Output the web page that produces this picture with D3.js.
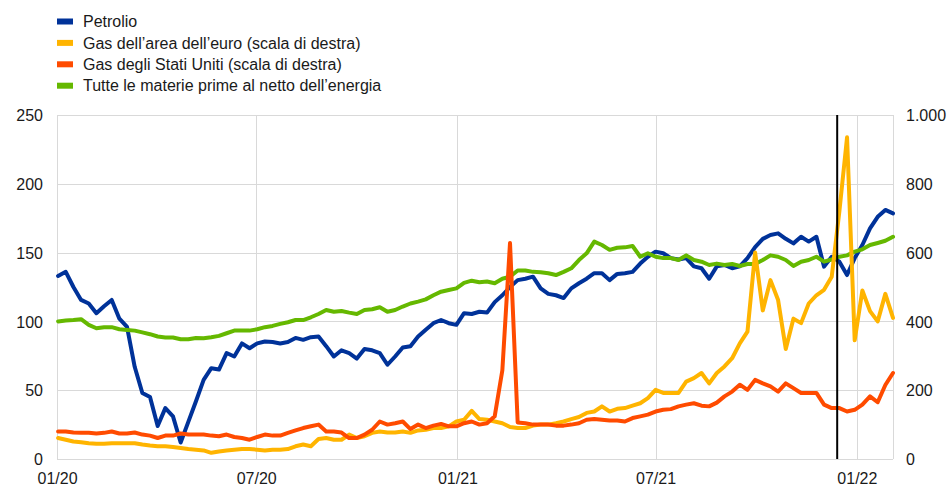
<!DOCTYPE html>
<html>
<head>
<meta charset="utf-8">
<script src="https://cdn.jsdelivr.net/npm/d3@7"></script>
<style>
  body { margin: 0; background: #fff; }
  text { font-family: "Liberation Sans", Arial, sans-serif; fill: #1a1a1a; }
</style>
</head>
<body>
<svg id="chart" width="947" height="486"></svg>
<script>
// Serie settimanali dal 02/01/2020 (giovedì) al 03/02/2022
const firstWeek = new Date(2020, 0, 2);
const weekCount = 110;

// Petrolio (scala di sinistra)
const petrolio = [
  133, 136, 125, 115.6, 113, 106, 111, 115.6, 102, 96, 67, 48, 45, 24, 37, 31, 12, 27, 42,
  57.5, 66, 65, 77, 74.5, 84, 80.5, 84, 85.4, 85, 84, 85, 88, 86.6, 88.5, 89, 82, 74.5,
  79, 77, 73, 80, 79, 77, 68.5, 74.5, 81, 82, 89, 94, 98.7, 101, 98.7, 97.5, 106, 105.4, 107,
  106.4, 114, 119, 125, 130, 131, 132.5, 124, 120, 119, 117, 124, 127.7, 131, 135, 135, 130, 134.5,
  135, 136, 142, 147, 150.7, 149.5, 146, 145, 146, 140, 138.6, 131, 140, 141, 138.6, 140, 146, 154,
  160, 162.8, 164, 160, 156.7, 161.5, 158, 161.5, 139.8, 147, 143.4, 133.7, 146, 155.5, 167.6, 176, 181, 178.5
];

// Tutte le materie prime al netto dell'energia (scala di sinistra)
const nonEnergia = [
  100, 100.6, 101, 101.6, 97.5, 95, 95.8, 95.8, 94.3, 93.8, 93.3, 92, 90.7, 89, 88.3, 88.3, 87, 87, 88,
  87.8, 88.5, 89.5, 91.4, 93.3, 93.3, 93.3, 94.3, 95.8, 96.7, 98.2, 99.4, 101, 101, 103, 105.4, 108.3, 107,
  107.6, 106.4, 105.4, 108.3, 108.8, 110.3, 107, 108.3, 110.8, 113, 114.4, 116, 119, 121.6, 122.8, 124, 128, 129.6, 128.5,
  129, 127.7, 131, 132.5, 137, 137, 136, 135.7, 135, 133.7, 136, 138.6, 144.6, 149.5, 158, 155.5, 152, 153.5,
  153.8, 154.8, 147, 149.5, 147, 146, 146, 144.6, 148, 144.6, 143.4, 141, 142, 141, 141.7, 140.3, 141.7, 141.7,
  144.6, 148, 147, 144.6, 140.3, 143.4, 144.6, 147, 143.4, 145, 147, 148, 150.7, 152.4, 155.5, 157, 158.6, 161.5
];

// Gas dell'area dell'euro (scala di destra)
const gasEuro = [
  61, 56, 51, 49, 46, 44, 44, 46, 46, 46, 46, 42, 39, 37, 37, 35, 32, 29, 27,
  25, 18, 22, 25, 27, 29, 29, 27, 25, 27, 27, 29, 37, 42, 37, 58, 61, 56,
  56, 71, 61, 66, 76, 80, 77, 77, 80, 76, 83, 85, 90, 90, 95, 109, 114, 140, 116,
  114, 109, 104, 93, 90, 90, 97, 100, 100, 104, 109, 116, 122, 134, 138, 153, 138, 146,
  148, 155, 162, 177, 201, 192, 192, 192, 225, 235, 250, 220, 250, 269, 293, 336, 370, 600,
  432, 520, 462, 320, 408, 395, 452, 476, 492, 530, 720, 935, 345, 490, 430, 400, 480, 410
];

// Gas degli Stati Uniti (scala di destra)
const gasUsa = [
  80, 80, 77, 76, 76, 74, 76, 80, 74, 74, 77, 71, 68, 61, 68, 68, 74, 71, 71,
  71, 68, 66, 71, 64, 61, 56, 64, 71, 68, 68, 76, 83, 90, 95, 100, 80, 80,
  77, 61, 61, 71, 85, 109, 100, 104, 109, 87, 100, 90, 97, 102, 95, 95, 104, 109, 100,
  104, 124, 258, 628, 106, 104, 100, 100, 100, 97, 97, 100, 104, 114, 116, 114, 112, 112,
  109, 119, 124, 129, 138, 143, 145, 153, 158, 162, 155, 153, 164, 182, 196, 216, 201, 230,
  220, 211, 196, 220, 206, 192, 192, 192, 158, 148, 148, 138, 143, 158, 182, 165, 215, 250
];

const series = [
  { name: 'Petrolio', values: petrolio, axis: 'left', color: '#003299' },
  { name: 'Tutte le materie prime al netto dell\u2019energia', values: nonEnergia, axis: 'left', color: '#65b800' },
  { name: 'Gas dell\u2019area dell\u2019euro (scala di destra)', values: gasEuro, axis: 'right', color: '#ffb400' },
  { name: 'Gas degli Stati Uniti (scala di destra)', values: gasUsa, axis: 'right', color: '#ff4b00' }
];
const legendOrder = [0, 2, 3, 1];

const leftTicks = [0, 50, 100, 150, 200, 250];
const rightTicks = [0, 200, 400, 600, 800, 1000];
const xTicks = ['2020-01-01', '2020-07-01', '2021-01-01', '2021-07-01', '2022-01-01'];
const markerDate = '2021-12-14';

const weeks = d3.range(weekCount).map(i => d3.timeDay.offset(firstWeek, 7 * i));
const parse = d3.timeParse('%Y-%m-%d');

const margin = { left: 57, right: 893, top: 115, bottom: 459 };
const svg = d3.select('#chart');

const x = d3.scaleTime()
  .domain([new Date(2020, 0, 1), new Date(2022, 1, 3)])
  .range([margin.left, margin.right]);
const yLeft = d3.scaleLinear().domain([0, 250]).range([margin.bottom, margin.top]);
const yRight = d3.scaleLinear().domain([0, 1000]).range([margin.bottom, margin.top]);

const itLocale = d3.formatLocale({ decimal: ',', thousands: '.', grouping: [3], currency: ['', ' €'] });
const fmtRight = itLocale.format(',');

// griglia
const grid = svg.append('g').attr('stroke', '#d9d9d9').attr('stroke-width', 1);
leftTicks.forEach(t => {
  grid.append('line')
    .attr('x1', margin.left).attr('x2', margin.right)
    .attr('y1', Math.round(yLeft(t)) + 0.5).attr('y2', Math.round(yLeft(t)) + 0.5);
});
xTicks.map(parse).concat([x.domain()[1]]).forEach(d => {
  grid.append('line')
    .attr('x1', Math.round(x(d)) + 0.5).attr('x2', Math.round(x(d)) + 0.5)
    .attr('y1', margin.top).attr('y2', margin.bottom);
});

// assi
const axisLeft = svg.append('g')
  .attr('transform', `translate(${margin.left},0)`)
  .call(d3.axisLeft(yLeft).tickValues(leftTicks).tickSize(0).tickPadding(14));
const axisRight = svg.append('g')
  .attr('transform', `translate(${margin.right},0)`)
  .call(d3.axisRight(yRight).tickValues(rightTicks).tickFormat(fmtRight).tickSize(0).tickPadding(13));
const axisBottom = svg.append('g')
  .attr('transform', `translate(0,${margin.bottom})`)
  .call(d3.axisBottom(x).tickValues(xTicks.map(parse)).tickFormat(d3.timeFormat('%m/%y')).tickSize(0).tickPadding(14));

[axisLeft, axisRight, axisBottom].forEach(a => {
  a.select('.domain').remove();
  a.selectAll('text').style('font-size', '16px').attr('fill', '#1a1a1a');
});
axisLeft.selectAll('text').attr('dy', '0.35em');
axisRight.selectAll('text').attr('dy', '0.35em');

// linee
const lineFor = s => d3.line()
  .x((d, i) => x(weeks[i]))
  .y(d => (s.axis === 'left' ? yLeft : yRight)(d))
  .curve(d3.curveLinear);

svg.append('g')
  .selectAll('path')
  .data(series)
  .join('path')
  .attr('d', s => lineFor(s)(s.values))
  .attr('fill', 'none')
  .attr('stroke', s => s.color)
  .attr('stroke-width', 4)
  .attr('stroke-linejoin', 'round')
  .attr('stroke-linecap', 'round');

// linea verticale
svg.append('line')
  .attr('x1', x(parse(markerDate))).attr('x2', x(parse(markerDate)))
  .attr('y1', margin.top).attr('y2', margin.bottom)
  .attr('stroke', '#000').attr('stroke-width', 2);

// legenda
const legend = svg.append('g');
legendOrder.forEach((k, row) => {
  const s = series[k];
  const cy = 21.5 + row * 21.4;
  legend.append('rect')
    .attr('x', 57).attr('y', cy - 3).attr('width', 16).attr('height', 6)
    .attr('fill', s.color);
  legend.append('text')
    .attr('x', 83).attr('y', cy).attr('dy', '0.35em')
    .style('font-size', '16px')
    .text(s.name);
});
</script>
</body>
</html>
